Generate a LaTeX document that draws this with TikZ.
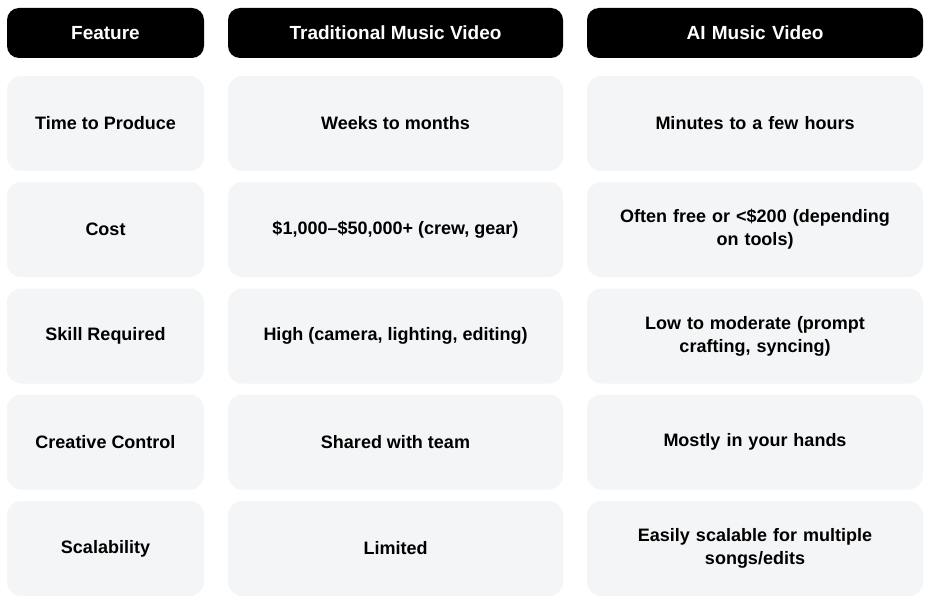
\documentclass[tikz,border=0pt]{standalone}
\usepackage{fontspec}
\setmainfont{Liberation Sans}
\definecolor{cellgray}{HTML}{F4F5F6}
\begin{document}
\begin{tikzpicture}[x=1pt,y=-1pt,
  cell/.style={fill=cellgray,rounded corners=14pt,inner sep=0pt,align=center,font=\fontsize{18}{23}\selectfont\bfseries,text=black},
  head/.style={fill=black,rounded corners=12pt,inner sep=0pt,align=center,font=\fontsize{19}{23}\selectfont\bfseries,text=white},
  c1/.style={minimum width=197pt},
  c2/.style={minimum width=335pt},
  c3/.style={minimum width=336pt,text width=300pt},
  rh/.style={minimum height=95pt},
  hh/.style={minimum height=50pt}]
\useasboundingbox (0,0) rectangle (929,604);
\node[head,c1,hh] (h1) at (105.5,33) {Feature};
\node[head,c2,hh] (h2) at (395.5,33) {Traditional Music Video};
\node[head,c3,hh] (h3) at (755,33) {AI Music Video};
\foreach \y/\a/\b/\c [count=\i] in {
 123.5/Time to Produce/Weeks to months/Minutes to a few hours,
 229.5/Cost/{\$1,000–\$50,000+ (crew, gear)}/{Often free or <\$200 (depending\\on tools)},
 336/Skill Required/{High (camera, lighting, editing)}/{Low to moderate (prompt\\crafting, syncing)},
 442/Creative Control/Shared with team/Mostly in your hands,
 548.5/Scalability/Limited/{Easily scalable for multiple\\songs/edits}}{
 \node[cell,c1,rh] (a\i) at (105.5,\y) {\a};
 \node[cell,c2,rh] (b\i) at (395.5,\y) {\b};
 \node[cell,c3,rh] (c\i) at (755,\y) {\c};
}
\end{tikzpicture}
\end{document}
